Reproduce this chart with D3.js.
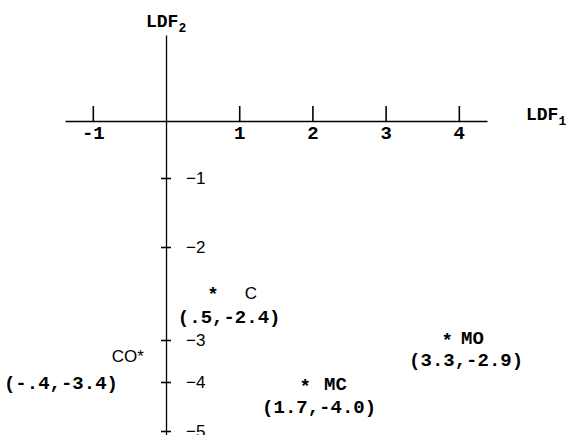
<!DOCTYPE html>
<html>
<head>
<meta charset="utf-8">
<script src="https://cdn.jsdelivr.net/npm/d3@7"></script>
<style>
  html, body { margin: 0; padding: 0; background: #fff; }
  svg { display: block; }
  .mono { font-family: "Liberation Mono", "Courier New", monospace; font-weight: bold; }
  .sans { font-family: "Liberation Sans", Arial, sans-serif; }
</style>
</head>
<body>
<svg id="chart" width="568" height="435"></svg>
<script>
// ---- data ----
const groups = ["C", "CO", "MC", "MO"];
// reported centroid coordinates (as printed in the labels)
const ldf1 = [0.5, -0.4, 1.7, 3.3];
const ldf2 = [-2.4, -3.4, -4.0, -2.9];
// where each centroid star is actually drawn, in axis units
const plotLdf1 = [0.64, -0.37, 1.90, 3.84];
const plotLdf2 = [-2.47, -3.33, -4.02, -2.97];
const xTicks = [-1, 1, 2, 3, 4];
const yTicks = [-1, -2, -3, -4, -5];
const xTitle = "LDF", xSub = "1";
const yTitle = "LDF", ySub = "2";

// ---- layout ----
const svg = d3.select("#chart");

const x = d3.scaleLinear().domain([-1.38, 4.385]).range([65, 487]);
// the drawn vertical axis is not evenly spaced; piecewise scale follows the picture
const y = d3.scaleLinear()
  .domain([1.51, 0, -1, -2, -3, -4, -5, -5.1])
  .range([35, 121, 178, 247, 340, 382, 431, 436]);

// per-point label layout (offsets from the star centre, px)
const layout = {
  C:  { starSans: false, name: "C",   nameClass: "sans", nameDx: 32, nameDy: 8, nameAnchor: "start", coordDx: -35, coordDy: 32 },
  CO: { starSans: true,  name: "CO*", nameClass: "sans", nameDx: 5,  nameDy: 8, nameAnchor: "end",   coordDx: -135, coordDy: 35 },
  MC: { starSans: false, name: "MC",  nameClass: "mono", nameDx: 19, nameDy: 7, nameAnchor: "start", coordDx: -43, coordDy: 30 },
  MO: { starSans: false, name: "MO",  nameClass: "mono", nameDx: 14, nameDy: 7, nameAnchor: "start", coordDx: -38, coordDy: 29 }
};

// ---- x axis (LDF1) ----
const y0 = y(0), x0 = x(0);
const gx = svg.append("g").attr("transform", `translate(0,${y0})`)
  .call(d3.axisBottom(x).tickValues(xTicks).tickFormat(d3.format("d"))
    .tickSizeInner(-15).tickSizeOuter(0).tickPadding(18));
gx.select(".domain").attr("stroke", "#000").attr("stroke-width", 1.3);
gx.selectAll(".tick line").attr("stroke", "#000").attr("stroke-width", 1.6);
gx.selectAll(".tick text").attr("class", "mono").attr("font-size", 19).attr("fill", "#000")
  .attr("dy", "0").text(d => d < 0 ? "-" + Math.abs(d) : d);
gx.attr("font-family", null).attr("font-size", null);

// ---- y axis (LDF2) ----
const gy = svg.append("g").attr("transform", `translate(${x0},0)`)
  .call(d3.axisRight(y).tickValues(yTicks).tickFormat(d => "\u2212" + Math.abs(d))
    .tickSizeInner(5).tickSizeOuter(0).tickPadding(15));
gy.select(".domain").attr("stroke", "#000").attr("stroke-width", 1.3);
gy.selectAll(".tick line").attr("x1", -5).attr("x2", 5).attr("stroke", "#000").attr("stroke-width", 1.6);
gy.selectAll(".tick text").attr("class", "sans").attr("font-size", 17).attr("fill", "#000");
gy.attr("font-family", null).attr("font-size", null);

// ---- axis titles ----
function title(tx, ty, main, sub) {
  const t = svg.append("text").attr("class", "mono").attr("x", tx).attr("y", ty)
    .attr("font-size", 18).attr("fill", "#000");
  t.append("tspan").text(main);
  t.append("tspan").attr("font-size", 13).attr("dy", 5).text(sub);
}
title(146, 27, yTitle, ySub);
title(526, 120, xTitle, xSub);

// ---- centroid points ----
const fmtX = v => { const s = v.toFixed(1); return s.replace(/^(-?)0\./, "$1."); };
const pts = groups.map((g, i) => ({
  g, px: x(plotLdf1[i]), py: y(plotLdf2[i]),
  label: `(${fmtX(ldf1[i])},${ldf2[i].toFixed(1)})`
}));

const gp = svg.append("g");
pts.forEach(p => {
  const L = layout[p.g];
  if (!L.starSans) {
    gp.append("text").attr("class", "mono").attr("font-size", 19)
      .attr("x", p.px).attr("y", p.py + 9).attr("text-anchor", "middle").text("*");
  }
  gp.append("text").attr("class", L.nameClass).attr("font-size", L.nameClass === "sans" ? 17 : 19)
    .attr("x", p.px + L.nameDx).attr("y", p.py + L.nameDy)
    .attr("text-anchor", L.nameAnchor).text(L.name);
  gp.append("text").attr("class", "mono").attr("font-size", 19)
    .attr("x", p.px + L.coordDx).attr("y", p.py + L.coordDy).text(p.label);
});
</script>
</body>
</html>
